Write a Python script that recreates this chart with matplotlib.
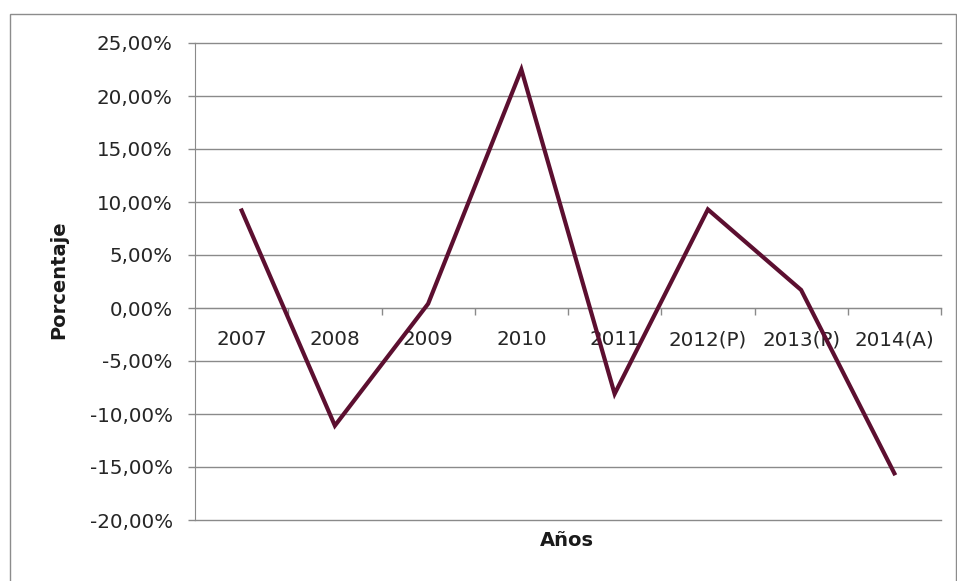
import matplotlib
matplotlib.use("Agg")
import matplotlib.pyplot as plt
from matplotlib.ticker import FuncFormatter, FixedLocator
from matplotlib.patches import Rectangle

categories = ["2007", "2008", "2009", "2010", "2011", "2012(P)", "2013(P)", "2014(A)"]
values = [9.2, -11.1, 0.4, 22.5, -8.1, 9.3, 1.7, -15.6]
y_ticks = [-20, -15, -10, -5, 0, 5, 10, 15, 20, 25]

plt.rcParams['font.family'] = ['DejaVu Sans']

W, H = 957, 581
fig = plt.figure(figsize=(W / 100, H / 100), dpi=100)
fig.patch.set_facecolor("white")

# outer chart border
fig.patches.append(Rectangle((10 / W, -0.05), (956 - 10) / W, 1 - 14 / H + 0.05,
                             transform=fig.transFigure, fill=False,
                             edgecolor="#8c8c8c", linewidth=1.0))

ax = fig.add_axes([195 / W, 1 - 520 / H, (941 - 195) / W, (520 - 43) / H])
grid_c = "#8a8a8a"
x = list(range(len(categories)))
ax.plot(x, values, color="#5c0f30", linewidth=3.0, solid_joinstyle="miter", zorder=3)

ax.set_xlim(-0.5, len(categories) - 0.5)
ax.set_ylim(-20, 25)
ax.yaxis.set_major_locator(FixedLocator(y_ticks))
ax.yaxis.set_major_formatter(FuncFormatter(lambda v, p: f"{v:.2f}%".replace(".", ",")))
ax.grid(axis="y", color=grid_c, linewidth=1.0)
ax.set_axisbelow(True)
for gl in ax.get_ygridlines():
    gl.set_clip_on(False)

for s in ["top", "right"]:
    ax.spines[s].set_visible(False)
ax.spines["left"].set_color(grid_c)
ax.spines["bottom"].set_color(grid_c)
ax.spines["bottom"].set_position(("data", 0))

ax.set_xticks(x)
ax.set_xticklabels(categories)
ax.set_xticks([i + 0.5 for i in range(len(categories))], minor=True)
ax.tick_params(axis="x", which="major", length=0, pad=16, labelsize=14.3, colors="#262626")
ax.tick_params(axis="x", which="minor", length=5, width=1, color=grid_c, direction="out")
ax.tick_params(axis="y", length=5, width=1, color=grid_c, pad=11, labelsize=14.3,
               labelcolor="#262626")

fig.text(59 / W, 1 - 280 / H, "Porcentaje", rotation=90, ha="center", va="center",
         fontsize=14, fontweight="bold", color="#1a1a1a")
fig.text(567 / W, 1 - 540 / H, "Años", ha="center", va="center",
         fontsize=14, fontweight="bold", color="#1a1a1a")

fig.savefig("out.png", dpi=100, facecolor="white")
